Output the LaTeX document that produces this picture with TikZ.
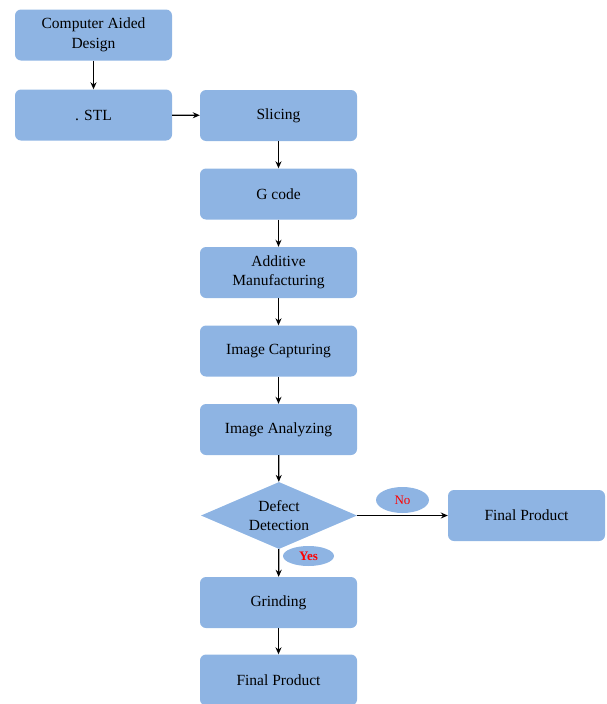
\documentclass[tikz,border=0pt]{standalone}
\usepackage{fontspec}
\setmainfont{Liberation Serif}
\usetikzlibrary{shapes.geometric,arrows.meta}
\definecolor{boxblue}{HTML}{8EB4E3}
\definecolor{lblred}{HTML}{FF0000}
\begin{document}
\begin{tikzpicture}[x=1pt,y=-1pt,
  stepbox/.style={fill=boxblue,draw=none,rounded corners=6pt,minimum width=157pt,minimum height=51pt,align=center,inner sep=0pt,font=\fontsize{15.5}{19.5}\selectfont},
  decbox/.style={diamond,fill=boxblue,draw=none,minimum width=156pt,minimum height=67pt,aspect=2.33,inner sep=0pt,align=center,font=\fontsize{15.5}{19.5}\selectfont},
  lbl/.style={ellipse,fill=boxblue,draw=none,inner sep=0pt,text=lblred,font=\fontsize{13}{15}\selectfont},
  arr/.style={-{Stealth[length=7pt,width=6pt]},line width=1.3pt,black}]
\useasboundingbox (0,0) rectangle (606,704);
\node[stepbox] (cad) at (93.5,35) {Computer Aided\\Design};
\node[stepbox] (stl) at (93.5,115) {. STL};
\node[stepbox] (slc) at (278.5,115.5) {Slicing};
\node[stepbox] (gc) at (278.5,194) {G code};
\node[stepbox] (am) at (278.5,272.5) {Additive\\Manufacturing};
\node[stepbox] (ic) at (278.5,351) {Image Capturing};
\node[stepbox] (ia) at (278.5,429.5) {Image Analyzing};
\node[decbox] (dd) at (279,515.5) {Defect\\Detection};
\node[stepbox] (fp1) at (526.5,515.5) {Final Product};
\node[stepbox] (gr) at (278.5,602.5) {Grinding};
\node[stepbox] (fp2) at (278.5,680) {Final Product};
\node[lbl,minimum width=53pt,minimum height=26pt] (no) at (402.5,500) {No};
\node[lbl,minimum width=51pt,minimum height=20pt] (yes) at (308.5,556) {\bfseries Yes};
\draw[arr] (cad) -- (stl);
\draw[arr] (stl) -- (slc);
\draw[arr] (slc) -- (gc);
\draw[arr] (gc) -- (am);
\draw[arr] (am) -- (ic);
\draw[arr] (ic) -- (ia);
\draw[arr] (ia) -- (dd);
\draw[arr] (dd) -- (fp1);
\draw[arr] (dd) -- (gr);
\draw[arr] (gr) -- (fp2);
\end{tikzpicture}
\end{document}
